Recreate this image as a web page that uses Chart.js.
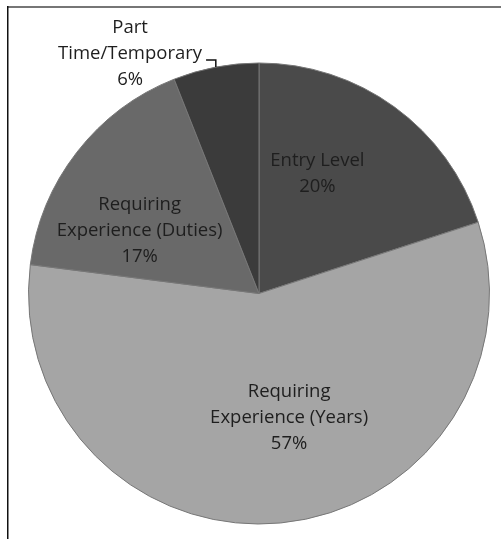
<!DOCTYPE html>
<html>
<head>
<meta charset="utf-8">
<script src="https://cdn.jsdelivr.net/npm/chart.js@4.4.0/dist/chart.umd.min.js"></script>
<style>
  html, body { margin:0; padding:0; background:#fff; }
  #wrap { position:absolute; left:0; top:0; width:501px; height:539px; }
</style>
</head>
<body>
<div id="wrap"><canvas id="pie" width="501" height="539"></canvas></div>
<script>
// ========== Data ==========
const categories = ['Entry Level', 'Requiring Experience (Years)', 'Requiring Experience (Duties)', 'Part Time/Temporary'];
const shares = [20, 57, 17, 6];
// how each label is broken into lines
const labelLines = [
  ['Entry Level'],
  ['Requiring', 'Experience (Years)'],
  ['Requiring', 'Experience (Duties)'],
  ['Part', 'Time/Temporary']
];

const sliceColors = ['#4a4a4a', '#a5a5a5', '#696969', '#3b3b3b'];

// label placement: fraction along the slice angle, distance as fraction of radius
const labelPlace = [
  { t:0.36, r:0.58 },
  { t:0.46, r:0.555 },
  { t:0.335, r:0.585 },
  { t:-0.31, r:1.18, leader:true }
];

const FONT = '18.5px "Open Sans", sans-serif';
const LINE_H = 26;

// frame lines along the top and left edges
const framePlugin = {
  id:'frame',
  beforeDraw(chart){
    const c = chart.ctx;
    c.save();
    c.fillStyle = '#fff';
    c.fillRect(0, 0, chart.width, chart.height);
    c.fillStyle = '#767676';
    c.fillRect(7, 6, chart.width - 7, 2);
    c.fillStyle = '#111';
    c.fillRect(7, 6, 1.5, chart.height - 6);
    c.restore();
  }
};

// category name + percentage, written on or beside each slice
const sliceLabels = {
  id:'sliceLabels',
  afterDatasetsDraw(chart){
    const c = chart.ctx;
    const meta = chart.getDatasetMeta(0);
    const total = shares.reduce((s, v) => s + v, 0);
    c.save();
    c.font = FONT;
    c.fillStyle = '#1e1e1e';
    c.textAlign = 'center';
    c.textBaseline = 'middle';
    meta.data.forEach((arc, i) => {
      const p = labelPlace[i];
      const a = arc.startAngle + (arc.endAngle - arc.startAngle) * p.t;
      const cx = arc.x + Math.cos(a) * arc.outerRadius * p.r;
      const cy = arc.y + Math.sin(a) * arc.outerRadius * p.r;
      const lines = labelLines[i].concat([Math.round(shares[i] / total * 100) + '%']);
      const top = cy - (lines.length - 1) * LINE_H / 2;
      lines.forEach((ln, k) => c.fillText(ln, cx, top + k * LINE_H));

      if (p.leader) {
        // elbow from the end of the longest line down to the slice edge
        const mid = (arc.startAngle + arc.endAngle) / 2;
        const ex = arc.x + Math.cos(mid) * arc.outerRadius;
        const ey = arc.y + Math.sin(mid) * arc.outerRadius;
        const w = c.measureText(lines[1]).width;
        const ly = top + LINE_H + 6;
        c.strokeStyle = '#111';
        c.lineWidth = 1.5;
        c.beginPath();
        c.moveTo(cx + w / 2 + 4, ly);
        c.lineTo(ex, ly);
        c.lineTo(ex, ey);
        c.stroke();
      }
    });
    c.restore();
  }
};

new Chart(document.getElementById('pie'), {
  type:'pie',
  data:{
    labels: categories,
    datasets:[{
      data: shares,
      backgroundColor: sliceColors,
      borderColor: '#777',
      borderWidth: 1
    }]
  },
  options:{
    responsive:false,
    animation:false,
    layout:{ padding:{ left:28, right:11, top:62, bottom:14 } },
    plugins:{ legend:{ display:false }, tooltip:{ enabled:false } }
  },
  plugins:[framePlugin, sliceLabels]
});
</script>
</body>
</html>
